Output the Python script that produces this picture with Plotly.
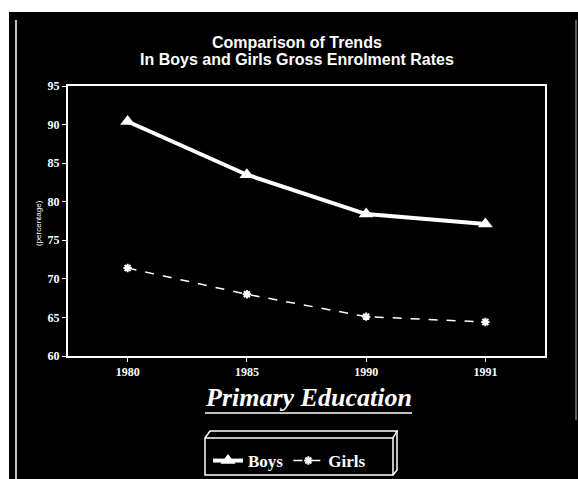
import plotly.graph_objects as go

years = ["1980", "1985", "1990", "1991"]
boys = [90.4, 83.5, 78.4, 77.1]
girls = [71.4, 68.0, 65.1, 64.4]
y_ticks = [60, 65, 70, 75, 80, 85, 90, 95]

W, H = 578, 479
L, R, T, B = 68, 545, 86, 356

def px(x):
    return (x - L) / (R - L)

def py(y):
    return (B - y) / (B - T)

fig = go.Figure()
fig.add_trace(go.Scatter(
    x=years, y=boys, name="Boys", mode="lines+markers",
    line=dict(color="white", width=4),
    marker=dict(symbol="triangle-up", size=13, color="white"),
))
fig.add_trace(go.Scatter(
    x=years, y=girls, name="Girls", mode="lines+markers",
    line=dict(color="white", width=1.5, dash="dash"),
    marker=dict(symbol="asterisk-open", size=7, color="white", line=dict(color="white", width=2)),
))

serif = "Liberation Serif"
sans = "Liberation Sans"

shapes = [
    # white strips at top and left
    dict(type="rect", xref="paper", yref="paper", x0=px(-10), x1=px(600), y0=py(12), y1=py(-10),
         fillcolor="white", line=dict(width=0), layer="below"),
    dict(type="rect", xref="paper", yref="paper", x0=px(-10), x1=px(9), y0=py(500), y1=py(-10),
         fillcolor="white", line=dict(width=0), layer="below"),
    # thin frame lines
    dict(type="line", xref="paper", yref="paper", x0=px(16), x1=px(16), y0=py(479), y1=py(20),
         line=dict(color="white", width=1.5)),
    dict(type="line", xref="paper", yref="paper", x0=px(576), x1=px(576), y0=py(420), y1=py(20),
         line=dict(color="#bbbbbb", width=1)),
    # underline of Primary Education
    dict(type="line", xref="paper", yref="paper", x0=px(205), x1=px(412), y0=py(413), y1=py(413),
         line=dict(color="white", width=1.5)),
    # legend 3D box
    dict(type="rect", xref="paper", yref="paper", x0=px(205), x1=px(393), y0=py(475), y1=py(438),
         line=dict(color="white", width=1.5)),
    dict(type="path", xref="paper", yref="paper",
         path=f"M {px(205)},{py(438)} L {px(210)},{py(431)} L {px(397)},{py(431)} L {px(393)},{py(438)}",
         line=dict(color="white", width=1.5)),
    dict(type="path", xref="paper", yref="paper",
         path=f"M {px(397)},{py(431)} L {px(397)},{py(470)} L {px(393)},{py(475)}",
         line=dict(color="white", width=1.5)),
]

annotations = [
    dict(text="<b>Comparison of Trends</b>",
         xref="paper", yref="paper", x=px(297), y=py(42), xanchor="center", yanchor="middle",
         showarrow=False, font=dict(family=sans, size=16, color="white")),
    dict(text="<b>In Boys and Girls Gross Enrolment Rates</b>",
         xref="paper", yref="paper", x=px(297), y=py(60), xanchor="center", yanchor="middle",
         showarrow=False, font=dict(family=sans, size=16, color="white")),
    dict(text="(percentage)", xref="paper", yref="paper", x=px(38), y=py(223),
         xanchor="center", yanchor="middle", textangle=-90, showarrow=False,
         font=dict(family=sans, size=8, color="white")),
    dict(text="<b><i>Primary Education</i></b>", xref="paper", yref="paper", x=px(308), y=py(398),
         xanchor="center", yanchor="middle", showarrow=False,
         font=dict(family=serif, size=26, color="white")),
]

fig.update_layout(
    width=W, height=H,
    margin=dict(l=L, r=W - R, t=T, b=H - B, autoexpand=False),
    paper_bgcolor="black", plot_bgcolor="black",
    shapes=shapes, annotations=annotations,
    showlegend=True,
    legend=dict(orientation="h", x=px(208), y=py(443), xanchor="left", yanchor="top",
                bgcolor="rgba(0,0,0,0)", borderwidth=0,
                font=dict(family=serif, size=17, color="white", weight="bold"),
                itemwidth=30, tracegroupgap=0),
    xaxis=dict(type="category", range=[-0.5, 3.5], showgrid=False, zeroline=False,
               showline=True, linecolor="white", linewidth=2, mirror=True,
               ticks="outside", tickcolor="white", ticklen=4, tickwidth=1,
               tickfont=dict(family=serif, size=12, color="white", weight="bold")),
    yaxis=dict(range=[60, 95], tickvals=y_ticks, showgrid=False, zeroline=False,
               showline=True, linecolor="white", linewidth=2, mirror=True,
               ticks="outside", tickcolor="white", ticklen=4, tickwidth=1,
               tickfont=dict(family=serif, size=12, color="white", weight="bold")),
)

fig.write_html("out.html")
